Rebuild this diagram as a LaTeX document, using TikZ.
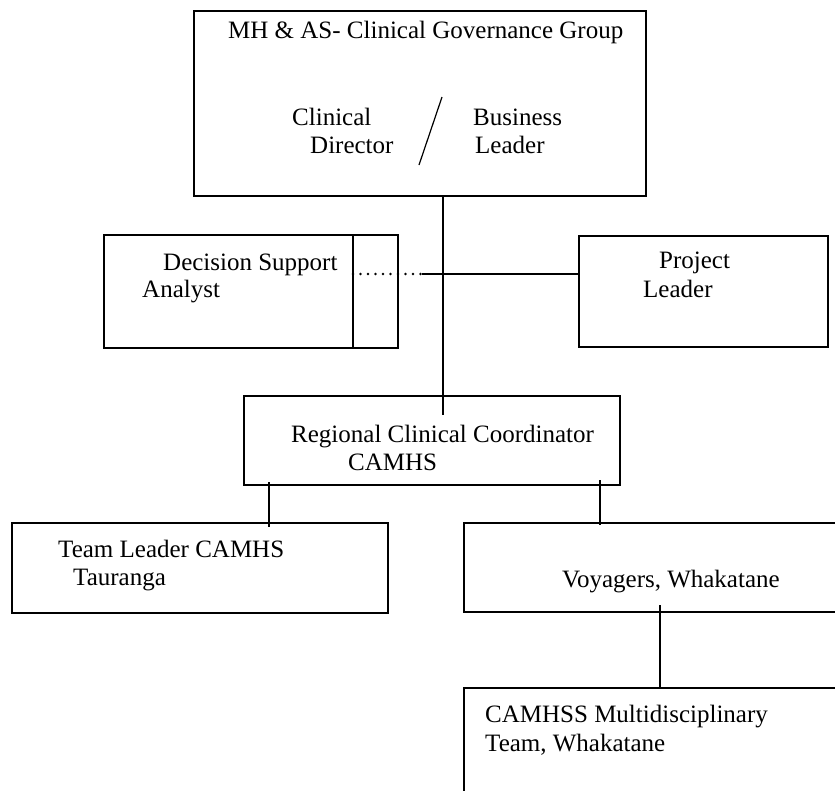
\documentclass[tikz,border=0pt]{standalone}
\usepackage{fontspec}
\setmainfont{Liberation Serif}
\usetikzlibrary{positioning,calc}

\begin{document}
\begin{tikzpicture}[x=1pt, y=-1pt, font=\fontsize{25}{30}\selectfont,
  unit/.style={draw, rectangle, line width=1.4pt, inner sep=0pt, outer sep=0pt},
  lbl/.style={anchor=base west, inner sep=0pt},
  link/.style={line width=1.4pt},
  dotlink/.style={line width=2.6pt, line cap=round, dash pattern=on 0pt off 7.5pt}]
  \useasboundingbox (0,0) rectangle (835,790);
  \clip (0,0) rectangle (835,790);

  % boxes
  \node[unit, minimum width=452pt, minimum height=185pt] (gov) at (420,103.5) {};
  \node[unit, minimum width=249pt, minimum height=113pt] (dsa) at (228.5,291.5) {};
  \node[unit, minimum width=45pt, minimum height=113pt] (dsaside) at (375.5,291.5) {};
  \node[unit, minimum width=249pt, minimum height=111pt] (proj) at (703.5,291.5) {};
  \node[unit, minimum width=376pt, minimum height=89pt] (rcc) at (432,440.5) {};
  \node[unit, minimum width=376pt, minimum height=90pt] (tl) at (200,568) {};
  \node[unit, minimum width=376pt, minimum height=89pt] (voy) at (652,567.5) {};
  \node[unit, minimum width=376pt, minimum height=112pt] (mdt) at (652,744) {};

  % texts
  \node[lbl] (govtitle) at (228,38) {MH \& AS- Clinical Governance Group};
  \node[lbl] (cd1) at (292,125) {Clinical};
  \node[lbl] (cd2) at (310,153) {Director};
  \node[lbl] (bl1) at (473,125) {Business};
  \node[lbl] (bl2) at (475,153) {Leader};
  \draw[line width=1.2pt] (442,97) -- (419,165);
  \node[lbl] (dsa1) at (163,270) {Decision Support};
  \node[lbl] (dsa2) at (142,297) {Analyst};
  \node[lbl] (proj1) at (659,268) {Project};
  \node[lbl] (proj2) at (643,297) {Leader};
  \node[lbl] (rcc1) at (291,442) {Regional Clinical Coordinator};
  \node[lbl] (rcc2) at (348,470) {CAMHS};
  \node[lbl] (tl1) at (58,557) {Team Leader CAMHS};
  \node[lbl] (tl2) at (73,585) {Tauranga};
  \node[lbl] (voy1) at (562,587) {Voyagers, Whakatane};
  \node[lbl] (mdt1) at (485,722) {CAMHSS Multidisciplinary};
  \node[lbl] (mdt2) at (485,751) {Team, Whakatane};

  % connectors
  \coordinate (hub) at (443,274);
  \coordinate (dotend) at (422,274);
  \draw[link] (gov.south -| hub) -- ($(rcc.north -| hub)+(0,19)$);
  \draw[dotlink] (dsaside.west |- hub) -- (dotend);
  \draw[link] (dotend) -- (proj.west |- hub);
  \draw[link] ($(rcc.south west)+(25,-3)$) -- ($(rcc.south west |- tl.north)+(25,4)$);
  \draw[link] ($(rcc.south east)+(-20,-5)$) -- ($(rcc.south east |- voy.north)+(-20,2)$);
  \draw[link] ($(voy.south west)+(196,-7)$) -- ($(voy.south west |- mdt.north)+(196,0)$);
\end{tikzpicture}
\end{document}
